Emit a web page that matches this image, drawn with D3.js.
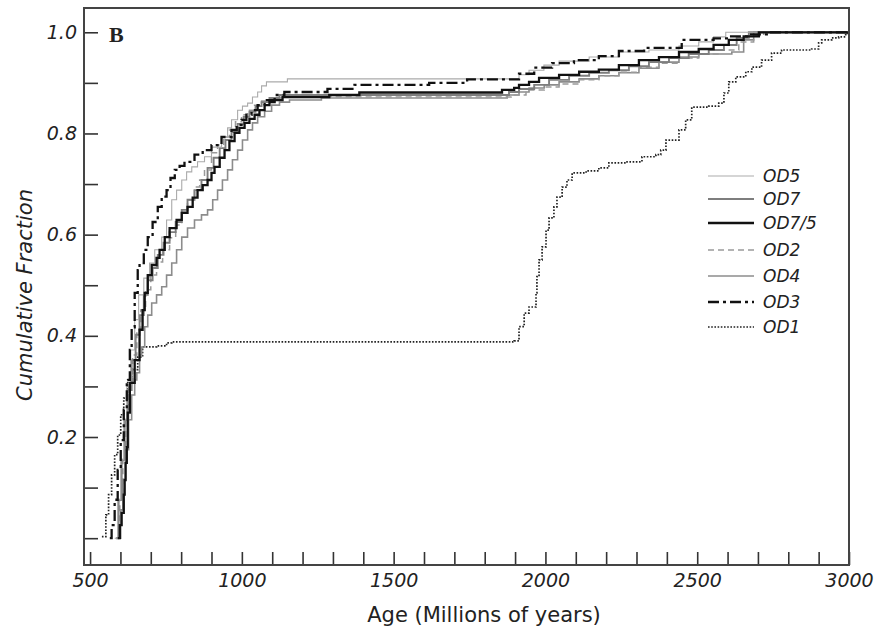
<!DOCTYPE html>
<html>
<head>
<meta charset="utf-8">
<script src="https://cdn.jsdelivr.net/npm/d3@7"></script>
<style>
  body { margin: 0; background: #fff; }
  svg { display: block; }
  .tick text { font-family: "DejaVu Sans", sans-serif; font-style: oblique; font-size: 19px; fill: #222; }
</style>
</head>
<body>
<script>
// cumulative fraction curves, [age (Ma), fraction]
let od5 = [[581,0],[591,0.076],[601,0.155],[611,0.234],[621,0.303],[634,0.372],[647,0.432],[660,0.481],[677,0.514],[696,0.544],[713,0.570],[736,0.595],[752,0.629],[769,0.669],[785,0.688],[802,0.708],[818,0.724],[835,0.734],[854,0.744],[877,0.754],[900,0.773],[933,0.793],[953,0.811],[966,0.827],[986,0.846],[1002,0.854],[1019,0.860],[1035,0.872],[1052,0.882],[1065,0.894],[1081,0.902],[1150,0.908],[1913,0.916],[1946,0.925],[1995,0.935],[2045,0.943],[2144,0.951],[2242,0.961],[2341,0.965],[2440,0.973],[2505,0.981],[2554,0.991],[2594,1.0],[3000,1.0]]
let od7 = [[585,0],[594,0.076],[604,0.155],[614,0.234],[624,0.293],[637,0.352],[650,0.402],[663,0.441],[677,0.481],[690,0.510],[706,0.534],[723,0.560],[742,0.584],[762,0.605],[782,0.625],[802,0.649],[821,0.669],[844,0.688],[867,0.708],[887,0.732],[907,0.752],[927,0.771],[946,0.787],[966,0.803],[986,0.819],[1006,0.833],[1025,0.843],[1045,0.854],[1065,0.862],[1091,0.870],[1124,0.876],[1880,0.882],[1913,0.888],[1963,0.896],[2012,0.906],[2078,0.914],[2144,0.920],[2209,0.925],[2275,0.933],[2341,0.941],[2407,0.949],[2472,0.957],[2538,0.965],[2588,0.975],[2630,0.989],[2670,1.0],[3000,1.0]]
let od75 = [[591,0],[598,0.026],[604,0.050],[611,0.086],[614,0.115],[617,0.149],[621,0.180],[624,0.248],[631,0.307],[647,0.352],[663,0.412],[673,0.451],[680,0.485],[690,0.520],[703,0.540],[719,0.554],[729,0.570],[746,0.595],[762,0.613],[785,0.629],[802,0.643],[821,0.655],[838,0.673],[854,0.688],[871,0.698],[887,0.708],[900,0.722],[910,0.734],[927,0.752],[943,0.767],[959,0.785],[976,0.801],[992,0.811],[1009,0.821],[1025,0.829],[1042,0.837],[1058,0.846],[1075,0.856],[1091,0.862],[1108,0.866],[1134,0.872],[1288,0.876],[1387,0.881],[1857,0.886],[1897,0.890],[1913,0.896],[1946,0.902],[1979,0.910],[2045,0.916],[2111,0.922],[2176,0.926],[2242,0.935],[2308,0.945],[2374,0.951],[2440,0.961],[2505,0.967],[2554,0.975],[2604,0.985],[2653,0.992],[2703,1.0],[3000,1.0]]
let od2 = [[588,0],[598,0.076],[608,0.155],[617,0.234],[627,0.303],[640,0.362],[654,0.412],[667,0.451],[683,0.491],[700,0.520],[719,0.546],[739,0.570],[762,0.594],[782,0.619],[802,0.645],[821,0.669],[844,0.694],[861,0.708],[877,0.728],[900,0.762],[920,0.777],[940,0.793],[959,0.807],[979,0.823],[999,0.837],[1019,0.846],[1042,0.856],[1065,0.864],[1098,0.870],[1140,0.872],[1887,0.876],[1936,0.886],[1996,0.892],[2045,0.898],[2111,0.906],[2176,0.914],[2242,0.921],[2308,0.931],[2374,0.939],[2440,0.949],[2505,0.957],[2571,0.965],[2637,0.981],[2686,0.993],[2719,1.0],[3000,1.0]]
let od4 = [[594,0],[601,0.056],[608,0.115],[617,0.175],[627,0.234],[637,0.283],[647,0.313],[654,0.327],[663,0.362],[670,0.378],[680,0.418],[690,0.441],[703,0.465],[719,0.481],[736,0.497],[752,0.520],[769,0.544],[785,0.570],[802,0.595],[821,0.613],[844,0.629],[867,0.639],[887,0.649],[904,0.669],[920,0.688],[936,0.708],[953,0.728],[969,0.748],[986,0.767],[1002,0.787],[1019,0.807],[1035,0.821],[1052,0.833],[1075,0.844],[1098,0.856],[1124,0.862],[1157,0.866],[1262,0.870],[1874,0.876],[1913,0.882],[1946,0.890],[1996,0.896],[2045,0.902],[2111,0.908],[2176,0.914],[2242,0.920],[2308,0.929],[2374,0.941],[2440,0.951],[2505,0.957],[2614,0.961],[2653,0.985],[2686,1.0],[3000,1.0]]
let od3 = [[565,0],[571,0.026],[581,0.076],[591,0.135],[601,0.194],[611,0.254],[621,0.313],[631,0.372],[637,0.417],[647,0.485],[657,0.530],[663,0.544],[677,0.570],[690,0.595],[706,0.625],[723,0.655],[736,0.675],[752,0.688],[765,0.712],[779,0.728],[795,0.736],[811,0.744],[844,0.758],[871,0.767],[900,0.777],[933,0.793],[966,0.807],[983,0.817],[999,0.827],[1015,0.837],[1032,0.846],[1052,0.856],[1075,0.866],[1108,0.876],[1140,0.882],[1282,0.888],[1371,0.896],[1617,0.900],[1742,0.907],[1913,0.918],[1963,0.930],[2022,0.939],[2094,0.945],[2176,0.953],[2242,0.963],[2325,0.969],[2449,0.985],[2554,0.988],[2604,0.992],[2670,0.996],[2736,1.0],[3000,1.0]]
let od1 = [[539,0.003],[552,0.046],[561,0.086],[571,0.125],[581,0.165],[591,0.204],[601,0.244],[611,0.277],[624,0.313],[637,0.333],[657,0.358],[673,0.378],[719,0.380],[752,0.386],[769,0.388],[1897,0.390],[1913,0.418],[1930,0.445],[1946,0.457],[1969,0.485],[1972,0.517],[1979,0.550],[1989,0.576],[2002,0.609],[2012,0.633],[2028,0.655],[2038,0.674],[2055,0.694],[2071,0.708],[2088,0.722],[2134,0.726],[2176,0.732],[2209,0.742],[2265,0.744],[2318,0.754],[2364,0.758],[2380,0.767],[2397,0.787],[2440,0.807],[2462,0.827],[2482,0.852],[2538,0.854],[2571,0.860],[2588,0.880],[2604,0.902],[2627,0.912],[2660,0.922],[2680,0.931],[2712,0.945],[2745,0.959],[2778,0.965],[2877,0.967],[2900,0.979],[2910,0.985],[2943,0.989],[2966,0.991],[2989,0.998],[3000,1.0]]

let seriesNames = ['OD5', 'OD7', 'OD7/5', 'OD2', 'OD4', 'OD3', 'OD1']
let seriesData = [od5, od7, od75, od2, od4, od3, od1]

let xTicks = d3.range(500, 3001, 100)
let xLabels = [500, 1000, 1500, 2000, 2500, 3000]
let yTicks = d3.range(0, 11).map(d => d / 10)
let yLabels = [0.2, 0.4, 0.6, 0.8, 1.0]

// line look for each series
let styles = {
  'OD5':   {stroke: '#ababab', width: 1.1, dash: null},
  'OD7':   {stroke: '#7e7e7e', width: 1.9, dash: null},
  'OD7/5': {stroke: '#111',    width: 2.3, dash: null},
  'OD2':   {stroke: '#9a9a9a', width: 1.5, dash: '6,4'},
  'OD4':   {stroke: '#8c8c8c', width: 1.6, dash: null},
  'OD3':   {stroke: '#111',    width: 2.3, dash: '11,4,3,4'},
  'OD1':   {stroke: '#222',    width: 1.7, dash: '1.6,1.6'}
}

let width = 881, height = 634
let mLeft = 84, mRight = 849, mTop = 8, mBottom = 565

let x = d3.scaleLinear().domain([480, 3000]).range([mLeft, mRight])
let y = d3.scaleLinear().domain([-0.053, 1.048]).range([mBottom, mTop])

let svg = d3.select('body').append('svg')
  .attr('width', width)
  .attr('height', height)

let line = d3.line()
  .x(d => x(d[0]))
  .y(d => y(d[1]))
  .curve(d3.curveStepAfter)

// curves (OD1 first so the others sit on top)
let order = [6, 4, 3, 1, 0, 5, 2]
svg.append('g')
  .selectAll('path')
  .data(order)
  .enter().append('path')
  .attr('d', i => line(seriesData[i]))
  .attr('fill', 'none')
  .attr('stroke', i => styles[seriesNames[i]].stroke)
  .attr('stroke-width', i => styles[seriesNames[i]].width)
  .attr('stroke-dasharray', i => styles[seriesNames[i]].dash)
  .attr('stroke-linejoin', 'miter')

// axes with inward ticks
let xAxis = svg.append('g')
  .attr('transform', 'translate(0,' + mBottom + ')')
  .call(d3.axisBottom(x)
    .tickValues(xTicks)
    .tickSize(-13)
    .tickPadding(9)
    .tickFormat(d => xLabels.includes(d) ? d : ''))
xAxis.select('.domain').remove()
xAxis.selectAll('line').attr('stroke', '#333').attr('stroke-width', 1.6)

let yAxis = svg.append('g')
  .attr('transform', 'translate(' + mLeft + ',0)')
  .call(d3.axisLeft(y)
    .tickValues(yTicks)
    .tickSize(-14)
    .tickPadding(7)
    .tickFormat(d => yLabels.some(v => Math.abs(v - d) < 1e-9) ? d3.format('.1f')(d) : ''))
yAxis.select('.domain').remove()
yAxis.selectAll('line').attr('stroke', '#333').attr('stroke-width', 1.6)

// frame
svg.append('rect')
  .attr('x', mLeft).attr('y', mTop)
  .attr('width', mRight - mLeft).attr('height', mBottom - mTop)
  .attr('fill', 'none')
  .attr('stroke', '#444')
  .attr('stroke-width', 2)

svg.append('text')
  .attr('x', 109).attr('y', 42)
  .attr('font-family', 'Liberation Serif, serif')
  .attr('font-weight', 'bold')
  .attr('font-size', 22)
  .attr('fill', '#222')
  .text('B')

// axis titles
svg.append('text')
  .attr('x', 484).attr('y', 622)
  .attr('text-anchor', 'middle')
  .attr('font-family', 'DejaVu Sans, sans-serif')
  .attr('font-size', 21)
  .attr('fill', '#222')
  .text('Age (Millions of years)')

svg.append('text')
  .attr('transform', 'translate(32,' + 295 + ') rotate(-90)')
  .attr('text-anchor', 'middle')
  .attr('font-family', 'DejaVu Sans, sans-serif')
  .attr('font-style', 'oblique')
  .attr('font-size', 21)
  .attr('fill', '#222')
  .text('Cumulative Fraction')

// legend
let legendY = d3.scaleOrdinal().domain(seriesNames).range([176, 199, 223, 250, 276, 302, 327])
let legend = svg.append('g')
  .selectAll('g')
  .data(seriesNames)
  .enter().append('g')
  .attr('transform', d => 'translate(0,' + legendY(d) + ')')

legend.append('line')
  .attr('x1', 708).attr('x2', 754)
  .attr('stroke', d => styles[d].stroke)
  .attr('stroke-width', d => styles[d].width)
  .attr('stroke-dasharray', d => styles[d].dash)

legend.append('text')
  .attr('x', 763).attr('dy', '0.35em')
  .attr('font-family', 'DejaVu Sans, sans-serif')
  .attr('font-style', 'oblique')
  .attr('font-size', 17)
  .attr('fill', '#222')
  .text(d => d)
</script>
</body>
</html>
